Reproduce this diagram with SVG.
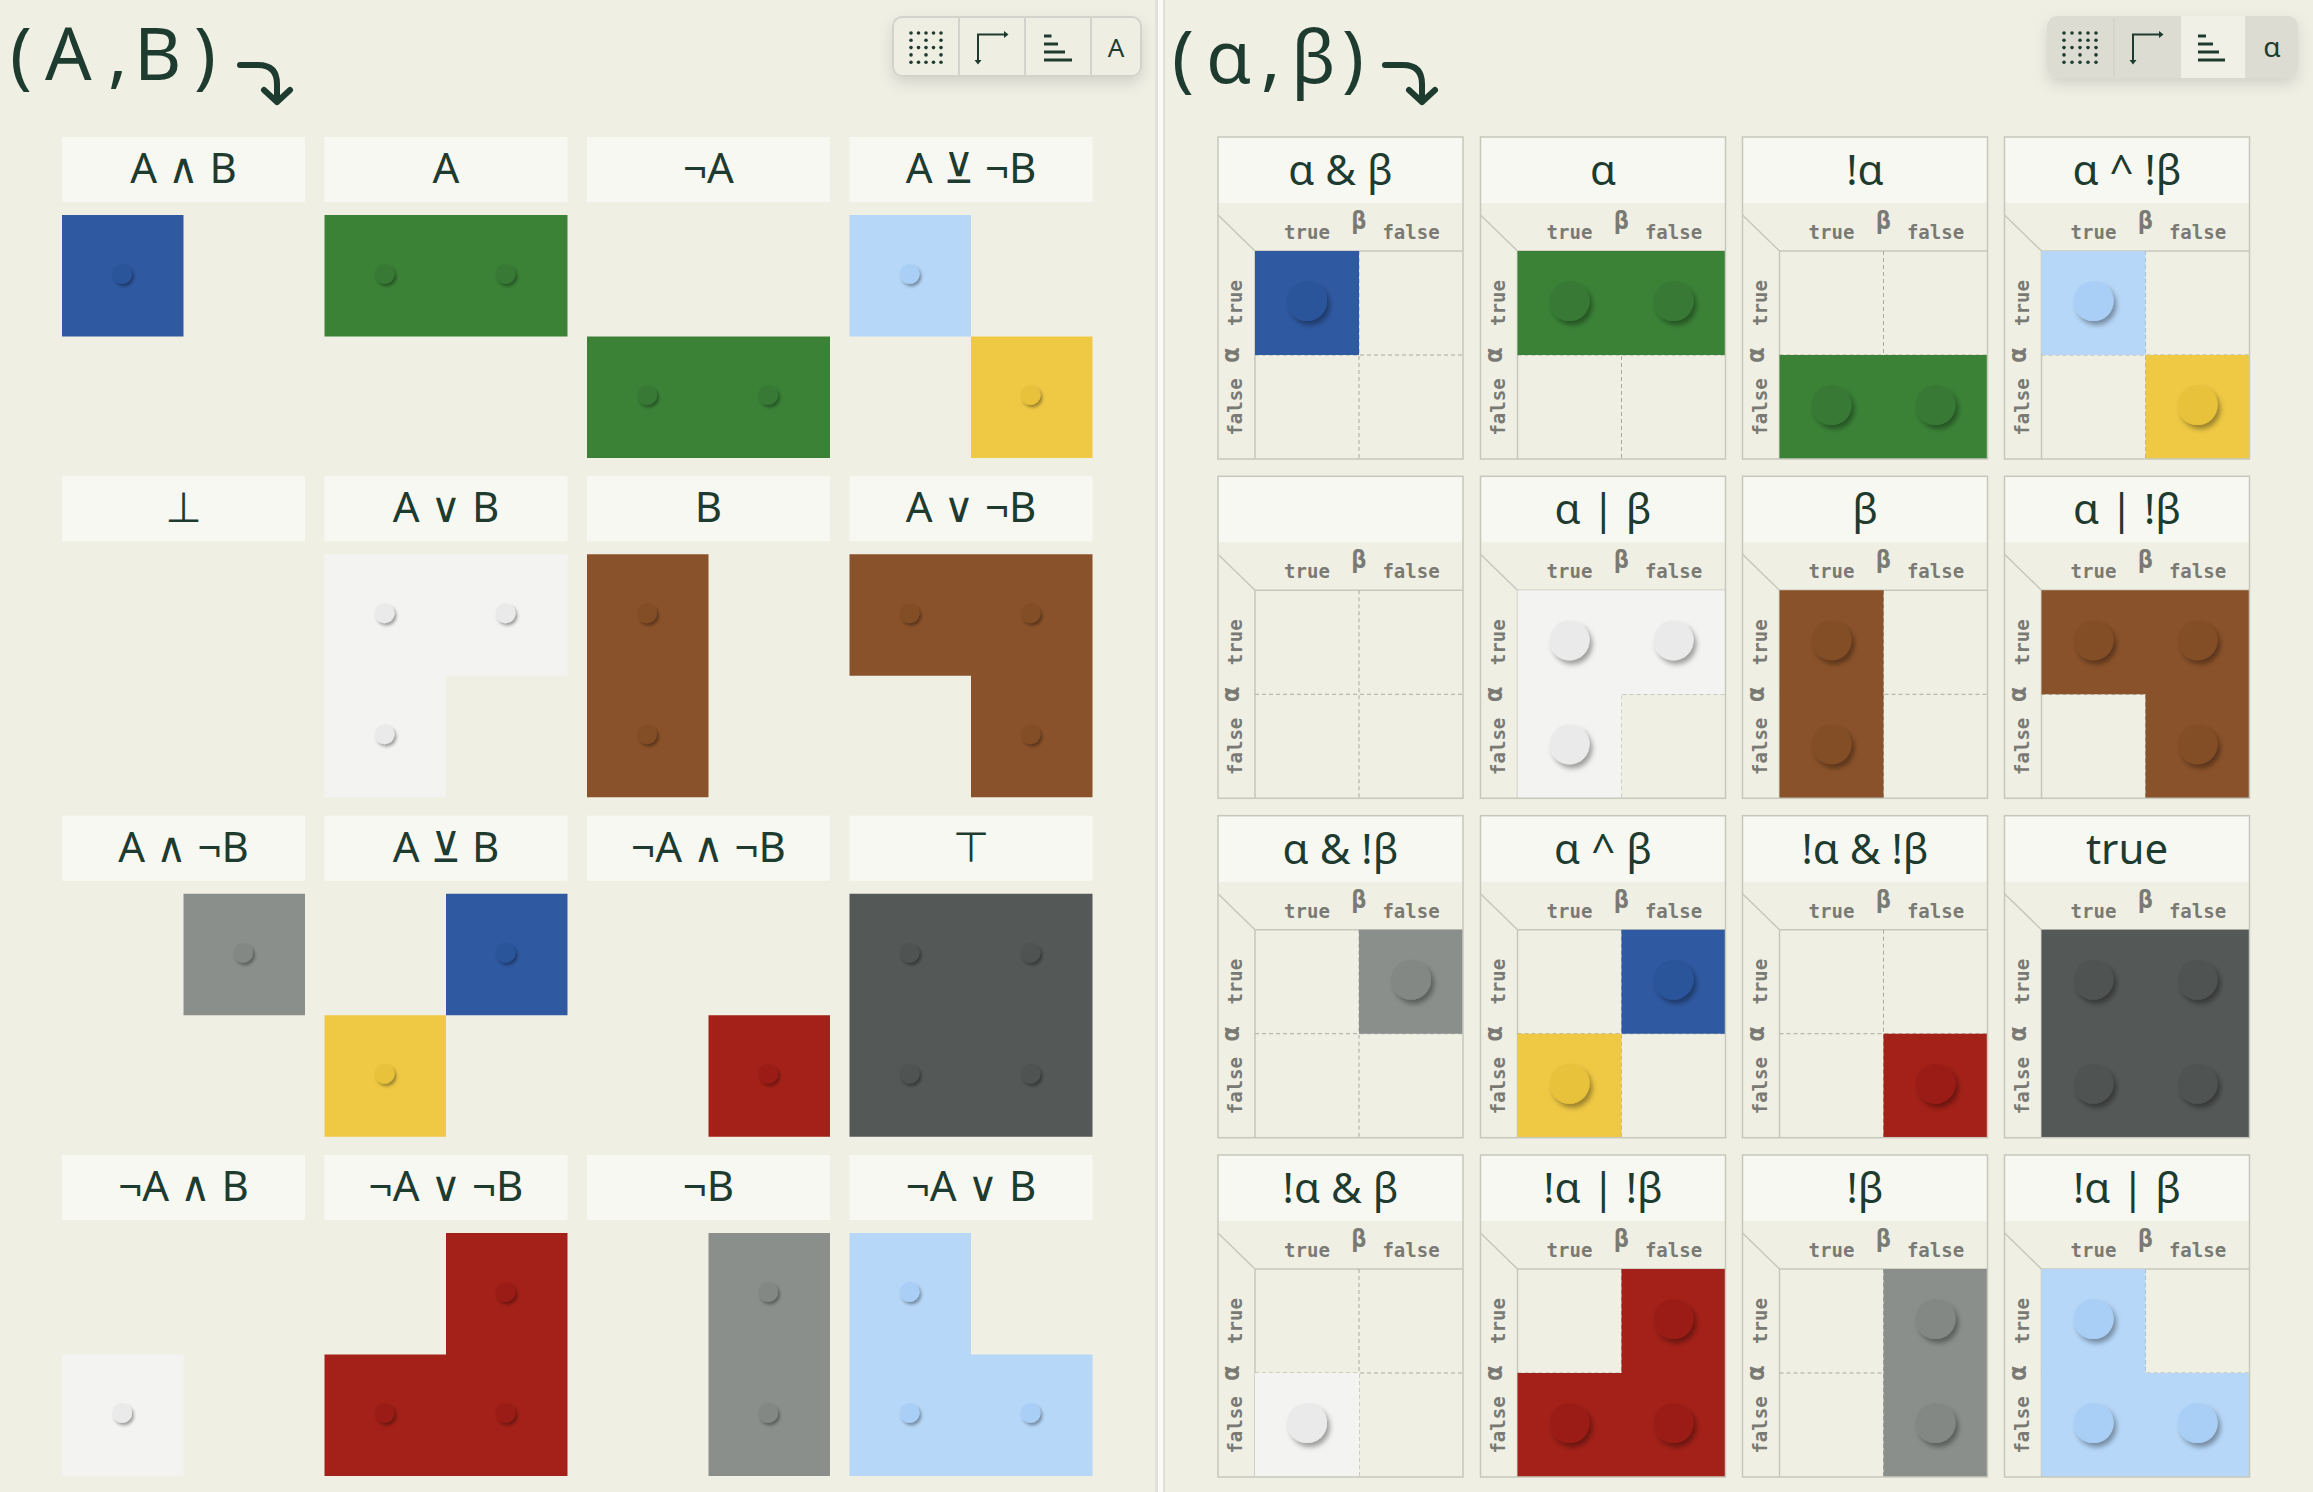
<svg xmlns="http://www.w3.org/2000/svg" width="2313" height="1492" viewBox="0 0 2313 1492">
<defs>
<style>
.bg{fill:#f0efe4}
.lbl{fill:#f8f8f3}
.ltxt{font-family:"Noto Sans","DejaVu Sans",sans-serif;font-size:42px;fill:#1e3b30;text-anchor:middle}
.title{font-family:"Noto Sans","DejaVu Sans",sans-serif;font-size:73px;fill:#1e3b30}
.arrow{fill:none;stroke:#1e3b30;stroke-width:6;stroke-linecap:round;stroke-linejoin:round}
.card{fill:none;stroke:#c6c8bc;stroke-width:1.5}
.gl{fill:none;stroke:#c6c8bc;stroke-width:1.5}
.dash{fill:none;stroke:#a9aaa2;stroke-width:1;stroke-dasharray:4 3}
.hd{font-family:"DejaVu Sans Mono","Liberation Mono",monospace;font-weight:bold;font-size:19px;fill:#7a7a74;text-anchor:middle}
.hb{font-size:25px}
.ico{fill:none;stroke:#1e3b30;stroke-width:2}
.icof{fill:#1e3b30}
.blue{fill:#2f59a1}.sblue{fill:#2c549a}
.green{fill:#3b8237}.sgreen{fill:#377a35}
.lblue{fill:#b6d7f8}.slblue{fill:#a9cff6}
.yellow{fill:#efc944}.syellow{fill:#e9c23a}
.white{fill:#f3f3f1}.swhite{fill:#eaeaea}
.brown{fill:#8a522a}.sbrown{fill:#834e28}
.gray{fill:#8b8f8b}.sgray{fill:#848884}
.dark{fill:#545856}.sdark{fill:#4f5351}
.red{fill:#a32118}.sred{fill:#9b1e16}
</style>
<filter id="shs" x="-50%" y="-50%" width="200%" height="200%"><feDropShadow dx="2" dy="2.5" stdDeviation="1.5" flood-color="#000" flood-opacity="0.35"/></filter>
<filter id="shl" x="-50%" y="-50%" width="200%" height="200%"><feDropShadow dx="3" dy="4" stdDeviation="2.5" flood-color="#000" flood-opacity="0.35"/></filter>
<filter id="tb" x="-20%" y="-40%" width="140%" height="200%"><feDropShadow dx="0" dy="6" stdDeviation="7" flood-color="#000" flood-opacity="0.12"/></filter>
</defs>

<rect class="bg" x="0" y="0" width="2313" height="1492"/>
<g id="separator">
<rect x="1155" y="0" width="3" height="1492" fill="#e2e2da"/>
<rect x="1158" y="0" width="5" height="1492" fill="#fafaf6"/>
<rect x="1163" y="0" width="2" height="1492" fill="#e0e0d8"/>
</g>

<!-- LEFT PANEL -->
<g id="title-ab">
<text class="title" x="10 45 108 134 194" y="80">(A,B)</text>
<path class="arrow" d="M240,65H258Q277,65 277,84V102M264,90L277,102L290,90"/>
</g>
<g id="toolbar-ab">
<rect x="893" y="17" width="248" height="59" rx="9" fill="#efeee3" stroke="#d3d3cb" stroke-width="2" filter="url(#tb)"/>
<path d="M959,18V75M1025,18V75M1091,18V75" stroke="#d3d3cb" stroke-width="2"/>
<g class="icof">
<circle cx="911" cy="33" r="1.8"/><circle cx="918.5" cy="33" r="1.8"/><circle cx="926" cy="33" r="1.8"/><circle cx="933.5" cy="33" r="1.8"/><circle cx="941" cy="33" r="1.8"/>
<circle cx="911" cy="40.3" r="1.8"/><circle cx="926" cy="40.3" r="1.8"/><circle cx="941" cy="40.3" r="1.8"/>
<circle cx="911" cy="47.6" r="1.8"/><circle cx="918.5" cy="47.6" r="1.8"/><circle cx="926" cy="47.6" r="1.8"/><circle cx="933.5" cy="47.6" r="1.8"/><circle cx="941" cy="47.6" r="1.8"/>
<circle cx="911" cy="54.9" r="1.8"/><circle cx="926" cy="54.9" r="1.8"/><circle cx="941" cy="54.9" r="1.8"/>
<circle cx="911" cy="62.2" r="1.8"/><circle cx="918.5" cy="62.2" r="1.8"/><circle cx="926" cy="62.2" r="1.8"/><circle cx="933.5" cy="62.2" r="1.8"/><circle cx="941" cy="62.2" r="1.8"/>
</g>
<path class="ico" d="M978,61V34.5H1005"/>
<path class="icof" d="M974.5,60L981.5,60L978,64.5Z M1004,31L1004,38L1008.5,34.5Z"/>
<g class="icof"><rect x="1044" y="34.5" width="7.5" height="3"/><rect x="1044" y="42.5" width="14" height="3"/><rect x="1044" y="50.5" width="21" height="3"/><rect x="1044" y="58.5" width="28" height="3"/></g>
<text x="1116" y="57" font-family="Noto Sans, DejaVu Sans, sans-serif" font-size="26" fill="#1e3b30" text-anchor="middle">A</text>
</g>

<g id="ab-a-and-b" transform="translate(62,137)">
<rect class="lbl" width="243" height="65"/><text class="ltxt" x="121.5" y="46">A ∧ B</text>
<path class="blue" d="M0,78h121.5v121.5h-121.5z"/>
<g filter="url(#shs)"><circle class="sblue" cx="60" cy="137" r="10"/></g>
</g>
<g id="ab-a" transform="translate(324.5,137)">
<rect class="lbl" width="243" height="65"/><text class="ltxt" x="121.5" y="46">A</text>
<path class="green" d="M0,78h243v121.5h-243z"/>
<g filter="url(#shs)"><circle class="sgreen" cx="60" cy="137" r="10"/><circle class="sgreen" cx="181" cy="137" r="10"/></g>
</g>
<g id="ab-not-a" transform="translate(587,137)">
<rect class="lbl" width="243" height="65"/><text class="ltxt" x="121.5" y="46">¬A</text>
<path class="green" d="M0,199.5h243v121.5h-243z"/>
<g filter="url(#shs)"><circle class="sgreen" cx="60" cy="258" r="10"/><circle class="sgreen" cx="181" cy="258" r="10"/></g>
</g>
<g id="ab-a-xor-not-b" transform="translate(849.5,137)">
<rect class="lbl" width="243" height="65"/><text class="ltxt" x="121.5" y="46">A ⊻ ¬B</text>
<path class="lblue" d="M0,78h121.5v121.5h-121.5z"/>
<path class="yellow" d="M121.5,199.5h121.5v121.5h-121.5z"/>
<g filter="url(#shs)"><circle class="slblue" cx="60" cy="137" r="10"/><circle class="syellow" cx="181" cy="258" r="10"/></g>
</g>

<g id="ab-bottom" transform="translate(62,476.3)">
<rect class="lbl" width="243" height="65"/><text class="ltxt" x="121.5" y="46">⊥</text>
</g>
<g id="ab-a-or-b" transform="translate(324.5,476.3)">
<rect class="lbl" width="243" height="65"/><text class="ltxt" x="121.5" y="46">A ∨ B</text>
<path class="white" d="M0,78H243V199.5H121.5V321H0Z"/>
<g filter="url(#shs)"><circle class="swhite" cx="60" cy="137" r="10"/><circle class="swhite" cx="181" cy="137" r="10"/><circle class="swhite" cx="60" cy="258" r="10"/></g>
</g>
<g id="ab-b" transform="translate(587,476.3)">
<rect class="lbl" width="243" height="65"/><text class="ltxt" x="121.5" y="46">B</text>
<path class="brown" d="M0,78h121.5v243h-121.5z"/>
<g filter="url(#shs)"><circle class="sbrown" cx="60" cy="137" r="10"/><circle class="sbrown" cx="60" cy="258" r="10"/></g>
</g>
<g id="ab-a-or-not-b" transform="translate(849.5,476.3)">
<rect class="lbl" width="243" height="65"/><text class="ltxt" x="121.5" y="46">A ∨ ¬B</text>
<path class="brown" d="M0,78H243V321H121.5V199.5H0Z"/>
<g filter="url(#shs)"><circle class="sbrown" cx="60" cy="137" r="10"/><circle class="sbrown" cx="181" cy="137" r="10"/><circle class="sbrown" cx="181" cy="258" r="10"/></g>
</g>

<g id="ab-a-and-not-b" transform="translate(62,815.7)">
<rect class="lbl" width="243" height="65"/><text class="ltxt" x="121.5" y="46">A ∧ ¬B</text>
<path class="gray" d="M121.5,78h121.5v121.5h-121.5z"/>
<g filter="url(#shs)"><circle class="sgray" cx="181" cy="137" r="10"/></g>
</g>
<g id="ab-a-xor-b" transform="translate(324.5,815.7)">
<rect class="lbl" width="243" height="65"/><text class="ltxt" x="121.5" y="46">A ⊻ B</text>
<path class="blue" d="M121.5,78h121.5v121.5h-121.5z"/>
<path class="yellow" d="M0,199.5h121.5v121.5h-121.5z"/>
<g filter="url(#shs)"><circle class="sblue" cx="181" cy="137" r="10"/><circle class="syellow" cx="60" cy="258" r="10"/></g>
</g>
<g id="ab-not-a-and-not-b" transform="translate(587,815.7)">
<rect class="lbl" width="243" height="65"/><text class="ltxt" x="121.5" y="46">¬A ∧ ¬B</text>
<path class="red" d="M121.5,199.5h121.5v121.5h-121.5z"/>
<g filter="url(#shs)"><circle class="sred" cx="181" cy="258" r="10"/></g>
</g>
<g id="ab-top" transform="translate(849.5,815.7)">
<rect class="lbl" width="243" height="65"/><text class="ltxt" x="121.5" y="46">⊤</text>
<path class="dark" d="M0,78h243v243h-243z"/>
<g filter="url(#shs)"><circle class="sdark" cx="60" cy="137" r="10"/><circle class="sdark" cx="181" cy="137" r="10"/><circle class="sdark" cx="60" cy="258" r="10"/><circle class="sdark" cx="181" cy="258" r="10"/></g>
</g>

<g id="ab-not-a-and-b" transform="translate(62,1155)">
<rect class="lbl" width="243" height="65"/><text class="ltxt" x="121.5" y="46">¬A ∧ B</text>
<path class="white" d="M0,199.5h121.5v121.5h-121.5z"/>
<g filter="url(#shs)"><circle class="swhite" cx="60" cy="258" r="10"/></g>
</g>
<g id="ab-not-a-or-not-b" transform="translate(324.5,1155)">
<rect class="lbl" width="243" height="65"/><text class="ltxt" x="121.5" y="46">¬A ∨ ¬B</text>
<path class="red" d="M121.5,78H243V321H0V199.5H121.5Z"/>
<g filter="url(#shs)"><circle class="sred" cx="181" cy="137" r="10"/><circle class="sred" cx="60" cy="258" r="10"/><circle class="sred" cx="181" cy="258" r="10"/></g>
</g>
<g id="ab-not-b" transform="translate(587,1155)">
<rect class="lbl" width="243" height="65"/><text class="ltxt" x="121.5" y="46">¬B</text>
<path class="gray" d="M121.5,78h121.5v243h-121.5z"/>
<g filter="url(#shs)"><circle class="sgray" cx="181" cy="137" r="10"/><circle class="sgray" cx="181" cy="258" r="10"/></g>
</g>
<g id="ab-not-a-or-b" transform="translate(849.5,1155)">
<rect class="lbl" width="243" height="65"/><text class="ltxt" x="121.5" y="46">¬A ∨ B</text>
<path class="lblue" d="M0,78H121.5V199.5H243V321H0Z"/>
<g filter="url(#shs)"><circle class="slblue" cx="60" cy="137" r="10"/><circle class="slblue" cx="60" cy="258" r="10"/><circle class="slblue" cx="181" cy="258" r="10"/></g>
</g>

<!-- RIGHT PANEL -->
<g id="title-alpha-beta">
<text class="title" x="1172 1206 1261 1291 1342" y="83">(α,β)</text>
<path class="arrow" d="M1385,65H1403Q1422,65 1422,84V102M1409,90L1422,102L1435,90"/>
</g>
<g id="toolbar-alpha-beta">
<rect x="2047" y="16" width="251" height="62" rx="10" fill="#dcdcd2" filter="url(#tb)"/>
<rect x="2181" y="16" width="64" height="62" fill="#f1f0e6"/>
<path d="M2114,18V76" stroke="#d2d2c8" stroke-width="1.5"/>
<g class="icof">
<circle cx="2064" cy="33" r="1.8"/><circle cx="2072" cy="33" r="1.8"/><circle cx="2080" cy="33" r="1.8"/><circle cx="2088" cy="33" r="1.8"/><circle cx="2096" cy="33" r="1.8"/>
<circle cx="2064" cy="40.3" r="1.8"/><circle cx="2080" cy="40.3" r="1.8"/><circle cx="2088" cy="40.3" r="1.8"/><circle cx="2096" cy="40.3" r="1.8"/>
<circle cx="2064" cy="47.6" r="1.8"/><circle cx="2072" cy="47.6" r="1.8"/><circle cx="2080" cy="47.6" r="1.8"/><circle cx="2088" cy="47.6" r="1.8"/><circle cx="2096" cy="47.6" r="1.8"/>
<circle cx="2064" cy="54.9" r="1.8"/><circle cx="2080" cy="54.9" r="1.8"/><circle cx="2096" cy="54.9" r="1.8"/>
<circle cx="2064" cy="62.2" r="1.8"/><circle cx="2072" cy="62.2" r="1.8"/><circle cx="2080" cy="62.2" r="1.8"/><circle cx="2088" cy="62.2" r="1.8"/><circle cx="2096" cy="62.2" r="1.8"/>
</g>
<path class="ico" d="M2133,61V34.5H2160"/>
<path class="icof" d="M2129.5,60L2136.5,60L2133,64.5Z M2159,31L2159,38L2163.5,34.5Z"/>
<g class="icof"><rect x="2198" y="34.5" width="8" height="3"/><rect x="2198" y="42.5" width="15" height="3"/><rect x="2198" y="50.5" width="21" height="3"/><rect x="2198" y="58.5" width="27" height="3"/></g>
<text x="2272" y="57" font-family="Noto Sans, DejaVu Sans, sans-serif" font-size="28" fill="#1e3b30" text-anchor="middle">α</text>
</g>

<!-- Row 1 -->
<g id="ab2-and" transform="translate(1218,137)">
<rect class="lbl" width="245" height="66"/><text class="ltxt" x="122.5" y="48">α &amp; β</text>
<path class="gl" d="M0,78L37,114M37,114H245M37,114V322"/><path class="dash" d="M141,114V322M37,218H245"/>
<path class="blue" d="M37,114h104v104h-104z"/>
<g filter="url(#shl)"><circle class="sblue" cx="89" cy="164" r="20"/></g>
<text class="hd" x="89" y="102">true</text><text class="hd hb" x="141" y="92">β</text><text class="hd" x="193" y="102">false</text>
<text class="hd" transform="translate(24,166) rotate(-90)">true</text><text class="hd hb" transform="translate(21,218) rotate(-90)">α</text><text class="hd" transform="translate(24,270) rotate(-90)">false</text>
<rect class="card" width="245" height="322"/>
</g>
<g id="ab2-alpha" transform="translate(1480.5,137)">
<rect class="lbl" width="245" height="66"/><text class="ltxt" x="122.5" y="48">α</text>
<path class="gl" d="M0,78L37,114M37,114H245M37,114V322"/><path class="dash" d="M141,114V322M37,218H245"/>
<path class="green" d="M37,114h208v104h-208z"/>
<g filter="url(#shl)"><circle class="sgreen" cx="89" cy="164" r="20"/><circle class="sgreen" cx="193" cy="164" r="20"/></g>
<text class="hd" x="89" y="102">true</text><text class="hd hb" x="141" y="92">β</text><text class="hd" x="193" y="102">false</text>
<text class="hd" transform="translate(24,166) rotate(-90)">true</text><text class="hd hb" transform="translate(21,218) rotate(-90)">α</text><text class="hd" transform="translate(24,270) rotate(-90)">false</text>
<rect class="card" width="245" height="322"/>
</g>
<g id="ab2-not-alpha" transform="translate(1742.5,137)">
<rect class="lbl" width="245" height="66"/><text class="ltxt" x="122.5" y="48">!α</text>
<path class="gl" d="M0,78L37,114M37,114H245M37,114V322"/><path class="dash" d="M141,114V322M37,218H245"/>
<path class="green" d="M37,218h208v104h-208z"/>
<g filter="url(#shl)"><circle class="sgreen" cx="89" cy="268" r="20"/><circle class="sgreen" cx="193" cy="268" r="20"/></g>
<text class="hd" x="89" y="102">true</text><text class="hd hb" x="141" y="92">β</text><text class="hd" x="193" y="102">false</text>
<text class="hd" transform="translate(24,166) rotate(-90)">true</text><text class="hd hb" transform="translate(21,218) rotate(-90)">α</text><text class="hd" transform="translate(24,270) rotate(-90)">false</text>
<rect class="card" width="245" height="322"/>
</g>
<g id="ab2-xor-not-beta" transform="translate(2004.5,137)">
<rect class="lbl" width="245" height="66"/><text class="ltxt" x="122.5" y="48">α ^ !β</text>
<path class="gl" d="M0,78L37,114M37,114H245M37,114V322"/><path class="dash" d="M141,114V322M37,218H245"/>
<path class="lblue" d="M37,114h104v104h-104z"/><path class="yellow" d="M141,218h104v104h-104z"/>
<g filter="url(#shl)"><circle class="slblue" cx="89" cy="164" r="20"/><circle class="syellow" cx="193" cy="268" r="20"/></g>
<text class="hd" x="89" y="102">true</text><text class="hd hb" x="141" y="92">β</text><text class="hd" x="193" y="102">false</text>
<text class="hd" transform="translate(24,166) rotate(-90)">true</text><text class="hd hb" transform="translate(21,218) rotate(-90)">α</text><text class="hd" transform="translate(24,270) rotate(-90)">false</text>
<rect class="card" width="245" height="322"/>
</g>

<!-- Row 2 -->
<g id="ab2-false" transform="translate(1218,476.3)">
<rect class="lbl" width="245" height="66"/>
<path class="gl" d="M0,78L37,114M37,114H245M37,114V322"/><path class="dash" d="M141,114V322M37,218H245"/>
<text class="hd" x="89" y="102">true</text><text class="hd hb" x="141" y="92">β</text><text class="hd" x="193" y="102">false</text>
<text class="hd" transform="translate(24,166) rotate(-90)">true</text><text class="hd hb" transform="translate(21,218) rotate(-90)">α</text><text class="hd" transform="translate(24,270) rotate(-90)">false</text>
<rect class="card" width="245" height="322"/>
</g>
<g id="ab2-or" transform="translate(1480.5,476.3)">
<rect class="lbl" width="245" height="66"/><text class="ltxt" x="122.5" y="48">α | β</text>
<path class="gl" d="M0,78L37,114M37,114H245M37,114V322"/><path class="dash" d="M141,114V322M37,218H245"/>
<path class="white" d="M37,114H245V218H141V322H37Z"/>
<g filter="url(#shl)"><circle class="swhite" cx="89" cy="164" r="20"/><circle class="swhite" cx="193" cy="164" r="20"/><circle class="swhite" cx="89" cy="268" r="20"/></g>
<text class="hd" x="89" y="102">true</text><text class="hd hb" x="141" y="92">β</text><text class="hd" x="193" y="102">false</text>
<text class="hd" transform="translate(24,166) rotate(-90)">true</text><text class="hd hb" transform="translate(21,218) rotate(-90)">α</text><text class="hd" transform="translate(24,270) rotate(-90)">false</text>
<rect class="card" width="245" height="322"/>
</g>
<g id="ab2-beta" transform="translate(1742.5,476.3)">
<rect class="lbl" width="245" height="66"/><text class="ltxt" x="122.5" y="48">β</text>
<path class="gl" d="M0,78L37,114M37,114H245M37,114V322"/><path class="dash" d="M141,114V322M37,218H245"/>
<path class="brown" d="M37,114h104v208h-104z"/>
<g filter="url(#shl)"><circle class="sbrown" cx="89" cy="164" r="20"/><circle class="sbrown" cx="89" cy="268" r="20"/></g>
<text class="hd" x="89" y="102">true</text><text class="hd hb" x="141" y="92">β</text><text class="hd" x="193" y="102">false</text>
<text class="hd" transform="translate(24,166) rotate(-90)">true</text><text class="hd hb" transform="translate(21,218) rotate(-90)">α</text><text class="hd" transform="translate(24,270) rotate(-90)">false</text>
<rect class="card" width="245" height="322"/>
</g>
<g id="ab2-or-not-beta" transform="translate(2004.5,476.3)">
<rect class="lbl" width="245" height="66"/><text class="ltxt" x="122.5" y="48">α | !β</text>
<path class="gl" d="M0,78L37,114M37,114H245M37,114V322"/><path class="dash" d="M141,114V322M37,218H245"/>
<path class="brown" d="M37,114H245V322H141V218H37Z"/>
<g filter="url(#shl)"><circle class="sbrown" cx="89" cy="164" r="20"/><circle class="sbrown" cx="193" cy="164" r="20"/><circle class="sbrown" cx="193" cy="268" r="20"/></g>
<text class="hd" x="89" y="102">true</text><text class="hd hb" x="141" y="92">β</text><text class="hd" x="193" y="102">false</text>
<text class="hd" transform="translate(24,166) rotate(-90)">true</text><text class="hd hb" transform="translate(21,218) rotate(-90)">α</text><text class="hd" transform="translate(24,270) rotate(-90)">false</text>
<rect class="card" width="245" height="322"/>
</g>

<!-- Row 3 -->
<g id="ab2-and-not-beta" transform="translate(1218,815.7)">
<rect class="lbl" width="245" height="66"/><text class="ltxt" x="122.5" y="48">α &amp; !β</text>
<path class="gl" d="M0,78L37,114M37,114H245M37,114V322"/><path class="dash" d="M141,114V322M37,218H245"/>
<path class="gray" d="M141,114h104v104h-104z"/>
<g filter="url(#shl)"><circle class="sgray" cx="193" cy="164" r="20"/></g>
<text class="hd" x="89" y="102">true</text><text class="hd hb" x="141" y="92">β</text><text class="hd" x="193" y="102">false</text>
<text class="hd" transform="translate(24,166) rotate(-90)">true</text><text class="hd hb" transform="translate(21,218) rotate(-90)">α</text><text class="hd" transform="translate(24,270) rotate(-90)">false</text>
<rect class="card" width="245" height="322"/>
</g>
<g id="ab2-xor" transform="translate(1480.5,815.7)">
<rect class="lbl" width="245" height="66"/><text class="ltxt" x="122.5" y="48">α ^ β</text>
<path class="gl" d="M0,78L37,114M37,114H245M37,114V322"/><path class="dash" d="M141,114V322M37,218H245"/>
<path class="blue" d="M141,114h104v104h-104z"/><path class="yellow" d="M37,218h104v104h-104z"/>
<g filter="url(#shl)"><circle class="sblue" cx="193" cy="164" r="20"/><circle class="syellow" cx="89" cy="268" r="20"/></g>
<text class="hd" x="89" y="102">true</text><text class="hd hb" x="141" y="92">β</text><text class="hd" x="193" y="102">false</text>
<text class="hd" transform="translate(24,166) rotate(-90)">true</text><text class="hd hb" transform="translate(21,218) rotate(-90)">α</text><text class="hd" transform="translate(24,270) rotate(-90)">false</text>
<rect class="card" width="245" height="322"/>
</g>
<g id="ab2-nor" transform="translate(1742.5,815.7)">
<rect class="lbl" width="245" height="66"/><text class="ltxt" x="122.5" y="48">!α &amp; !β</text>
<path class="gl" d="M0,78L37,114M37,114H245M37,114V322"/><path class="dash" d="M141,114V322M37,218H245"/>
<path class="red" d="M141,218h104v104h-104z"/>
<g filter="url(#shl)"><circle class="sred" cx="193" cy="268" r="20"/></g>
<text class="hd" x="89" y="102">true</text><text class="hd hb" x="141" y="92">β</text><text class="hd" x="193" y="102">false</text>
<text class="hd" transform="translate(24,166) rotate(-90)">true</text><text class="hd hb" transform="translate(21,218) rotate(-90)">α</text><text class="hd" transform="translate(24,270) rotate(-90)">false</text>
<rect class="card" width="245" height="322"/>
</g>
<g id="ab2-true" transform="translate(2004.5,815.7)">
<rect class="lbl" width="245" height="66"/><text class="ltxt" x="122.5" y="48">true</text>
<path class="gl" d="M0,78L37,114M37,114H245M37,114V322"/>
<path class="dark" d="M37,114h208v208h-208z"/>
<g filter="url(#shl)"><circle class="sdark" cx="89" cy="164" r="20"/><circle class="sdark" cx="193" cy="164" r="20"/><circle class="sdark" cx="89" cy="268" r="20"/><circle class="sdark" cx="193" cy="268" r="20"/></g>
<text class="hd" x="89" y="102">true</text><text class="hd hb" x="141" y="92">β</text><text class="hd" x="193" y="102">false</text>
<text class="hd" transform="translate(24,166) rotate(-90)">true</text><text class="hd hb" transform="translate(21,218) rotate(-90)">α</text><text class="hd" transform="translate(24,270) rotate(-90)">false</text>
<rect class="card" width="245" height="322"/>
</g>

<!-- Row 4 -->
<g id="ab2-not-alpha-and-beta" transform="translate(1218,1155)">
<rect class="lbl" width="245" height="66"/><text class="ltxt" x="122.5" y="48">!α &amp; β</text>
<path class="gl" d="M0,78L37,114M37,114H245M37,114V322"/><path class="dash" d="M141,114V322M37,218H245"/>
<path class="white" d="M37,218h104v104h-104z"/>
<g filter="url(#shl)"><circle class="swhite" cx="89" cy="268" r="20"/></g>
<text class="hd" x="89" y="102">true</text><text class="hd hb" x="141" y="92">β</text><text class="hd" x="193" y="102">false</text>
<text class="hd" transform="translate(24,166) rotate(-90)">true</text><text class="hd hb" transform="translate(21,218) rotate(-90)">α</text><text class="hd" transform="translate(24,270) rotate(-90)">false</text>
<rect class="card" width="245" height="322"/>
</g>
<g id="ab2-nand" transform="translate(1480.5,1155)">
<rect class="lbl" width="245" height="66"/><text class="ltxt" x="122.5" y="48">!α | !β</text>
<path class="gl" d="M0,78L37,114M37,114H245M37,114V322"/><path class="dash" d="M141,114V322M37,218H245"/>
<path class="red" d="M141,114H245V322H37V218H141Z"/>
<g filter="url(#shl)"><circle class="sred" cx="193" cy="164" r="20"/><circle class="sred" cx="89" cy="268" r="20"/><circle class="sred" cx="193" cy="268" r="20"/></g>
<text class="hd" x="89" y="102">true</text><text class="hd hb" x="141" y="92">β</text><text class="hd" x="193" y="102">false</text>
<text class="hd" transform="translate(24,166) rotate(-90)">true</text><text class="hd hb" transform="translate(21,218) rotate(-90)">α</text><text class="hd" transform="translate(24,270) rotate(-90)">false</text>
<rect class="card" width="245" height="322"/>
</g>
<g id="ab2-not-beta" transform="translate(1742.5,1155)">
<rect class="lbl" width="245" height="66"/><text class="ltxt" x="122.5" y="48">!β</text>
<path class="gl" d="M0,78L37,114M37,114H245M37,114V322"/><path class="dash" d="M141,114V322M37,218H245"/>
<path class="gray" d="M141,114h104v208h-104z"/>
<g filter="url(#shl)"><circle class="sgray" cx="193" cy="164" r="20"/><circle class="sgray" cx="193" cy="268" r="20"/></g>
<text class="hd" x="89" y="102">true</text><text class="hd hb" x="141" y="92">β</text><text class="hd" x="193" y="102">false</text>
<text class="hd" transform="translate(24,166) rotate(-90)">true</text><text class="hd hb" transform="translate(21,218) rotate(-90)">α</text><text class="hd" transform="translate(24,270) rotate(-90)">false</text>
<rect class="card" width="245" height="322"/>
</g>
<g id="ab2-implies" transform="translate(2004.5,1155)">
<rect class="lbl" width="245" height="66"/><text class="ltxt" x="122.5" y="48">!α | β</text>
<path class="gl" d="M0,78L37,114M37,114H245M37,114V322"/><path class="dash" d="M141,114V322M37,218H245"/>
<path class="lblue" d="M37,114H141V218H245V322H37Z"/>
<g filter="url(#shl)"><circle class="slblue" cx="89" cy="164" r="20"/><circle class="slblue" cx="89" cy="268" r="20"/><circle class="slblue" cx="193" cy="268" r="20"/></g>
<text class="hd" x="89" y="102">true</text><text class="hd hb" x="141" y="92">β</text><text class="hd" x="193" y="102">false</text>
<text class="hd" transform="translate(24,166) rotate(-90)">true</text><text class="hd hb" transform="translate(21,218) rotate(-90)">α</text><text class="hd" transform="translate(24,270) rotate(-90)">false</text>
<rect class="card" width="245" height="322"/>
</g>
</svg>
